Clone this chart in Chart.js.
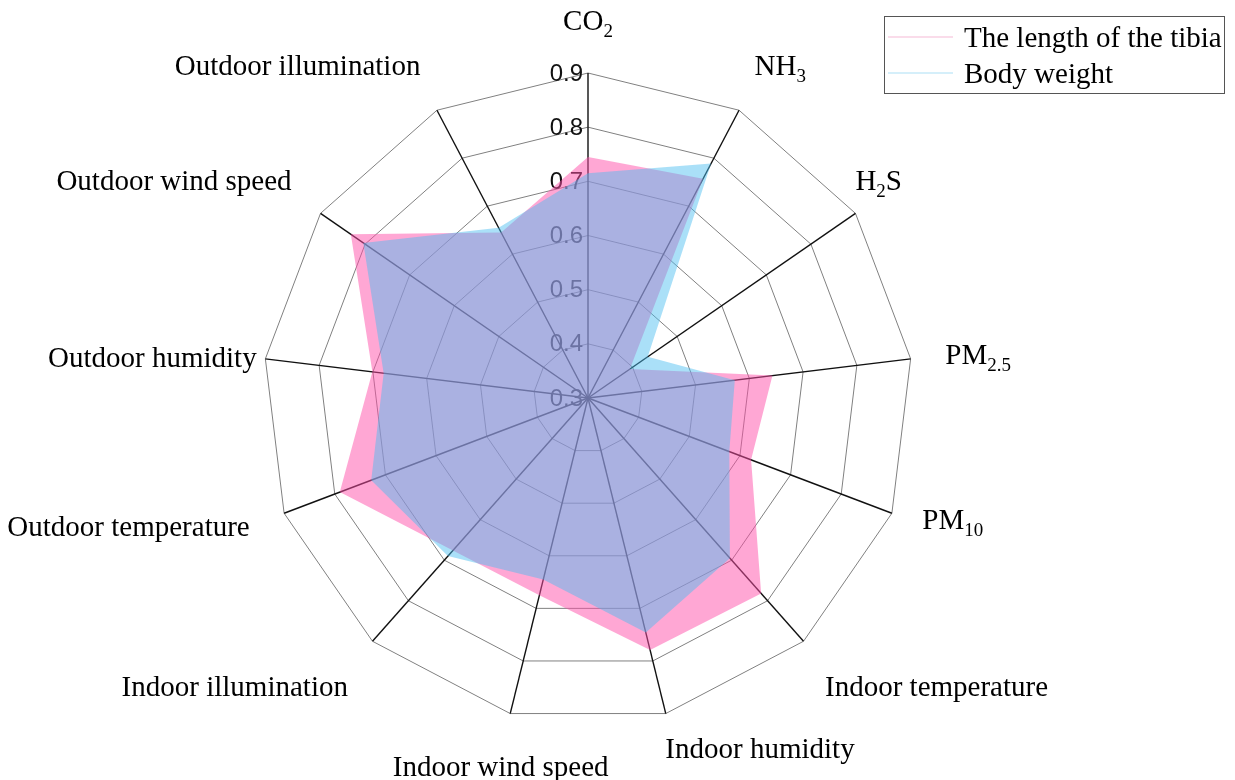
<!DOCTYPE html>
<html>
<head>
<meta charset="utf-8">
<script src="https://cdn.jsdelivr.net/npm/chart.js@4.4.0/dist/chart.umd.min.js"></script>
<style>
    html, body { margin: 0; padding: 0; background: #fff; }
    #wrap { width: 1235px; height: 780px; }
</style>
</head>
<body>
<div id="wrap"><canvas id="radarChart" width="1235" height="780"></canvas></div>
<script>
// categories, _{..} marks a subscript
const categories = ['CO_{2}', 'NH_{3}', 'H_{2}S', 'PM_{2.5}', 'PM_{10}', 'Indoor temperature', 'Indoor humidity',
    'Indoor wind speed', 'Indoor illumination', 'Outdoor temperature', 'Outdoor humidity', 'Outdoor wind speed',
    'Outdoor illumination'];
const seriesNames = ['The length of the tibia', 'Body weight'];
const tibiaLength = [0.745, 0.757, 0.394, 0.643, 0.622, 0.782, 0.779, 0.675, 0.676, 0.790, 0.701, 0.832, 0.645];
const bodyWeight = [0.715, 0.789, 0.434, 0.573, 0.579, 0.695, 0.746, 0.645, 0.690, 0.728, 0.680, 0.804, 0.655];
const tickMin = 0.3;
const tickMax = 0.9;
const tickStep = 0.1;

const pinkFill = 'rgba(255, 80, 170, 0.5)';
const blueFill = 'rgba(74, 189, 240, 0.47)';
const legendLines = ['#f6b9d6', '#ace0f6'];

// align, dx, dy for each point label (nudges away from the default spot)
const labelPlacement = [
    ['center', 0, -13], ['left', -3, -10], ['left', -33, -11], ['left', -5, 0], ['left', -7, -8],
    ['left', -5, 15], ['left', -10, -4], ['center', 0, 14], ['right', 2, 15], ['right', 3, -1],
    ['right', 31, 3], ['right', 4, -11], ['right', 2, -10]
];

const serif = '"Liberation Serif", "Times New Roman", serif';

function parseRich(text) {
    const parts = [];
    const re = /_\{([^}]*)\}/g;
    let last = 0, m;
    while ((m = re.exec(text)) !== null) {
        if (m.index > last) parts.push({ t: text.slice(last, m.index), sub: false });
        parts.push({ t: m[1], sub: true });
        last = re.lastIndex;
    }
    if (last < text.length) parts.push({ t: text.slice(last), sub: false });
    return parts;
}

function drawRich(ctx, text, x, yMid, align) {
    const parts = parseRich(text);
    const mainFont = '29px ' + serif;
    const subFont = '19px ' + serif;
    let total = 0;
    parts.forEach(p => {
        ctx.font = p.sub ? subFont : mainFont;
        p.w = ctx.measureText(p.t).width;
        total += p.w;
    });
    let cx = x;
    if (align === 'center') cx = x - total / 2;
    if (align === 'right') cx = x - total;
    const base = yMid + 10;
    ctx.textAlign = 'left';
    ctx.textBaseline = 'alphabetic';
    parts.forEach(p => {
        ctx.font = p.sub ? subFont : mainFont;
        ctx.fillText(p.t, cx, p.sub ? base + 7 : base);
        cx += p.w;
    });
}

// tick numbers sit under the filled areas
const tickLabelPlugin = {
    id: 'tickLabels',
    beforeDatasetsDraw(chart) {
        const scale = chart.scales.r;
        const ctx = chart.ctx;
        ctx.save();
        ctx.font = '24px "Liberation Sans", Arial, sans-serif';
        ctx.fillStyle = '#111';
        ctx.textAlign = 'right';
        ctx.textBaseline = 'middle';
        scale.ticks.forEach(t => {
            const d = scale.getDistanceFromCenterForValue(t.value);
            ctx.fillText(t.value.toFixed(1), scale.xCenter - 5, scale.yCenter - d + 1);
        });
        ctx.restore();
    }
};

const pointLabelPlugin = {
    id: 'richPointLabels',
    afterDraw(chart) {
        const scale = chart.scales.r;
        const ctx = chart.ctx;
        ctx.save();
        ctx.fillStyle = '#000';
        categories.forEach((name, i) => {
            const pos = scale.getPointPosition(i, scale.drawingArea + 40);
            const [align, dx, dy] = labelPlacement[i];
            drawRich(ctx, name, pos.x + dx, pos.y + dy, align);
        });
        ctx.restore();
    }
};

const boxLegendPlugin = {
    id: 'boxLegend',
    afterDraw(chart) {
        const ctx = chart.ctx;
        ctx.save();
        ctx.strokeStyle = '#555';
        ctx.lineWidth = 1;
        ctx.strokeRect(884.5, 16.5, 340, 77);
        chart.data.datasets.forEach((ds, i) => {
            const y = 37 + i * 36;
            ctx.strokeStyle = legendLines[i];
            ctx.lineWidth = 1.2;
            ctx.beginPath();
            ctx.moveTo(888, y);
            ctx.lineTo(953, y);
            ctx.stroke();
            ctx.fillStyle = '#000';
            ctx.font = '29px ' + serif;
            ctx.textAlign = 'left';
            ctx.textBaseline = 'alphabetic';
            ctx.fillText(ds.label, 964, y + 10);
        });
        ctx.restore();
    }
};

new Chart(document.getElementById('radarChart'), {
    type: 'radar',
    data: {
        labels: categories,
        datasets: [
            {
                label: seriesNames[0],
                data: tibiaLength,
                backgroundColor: pinkFill,
                borderWidth: 0,
                pointRadius: 0,
                fill: true,
                order: 1
            },
            {
                label: seriesNames[1],
                data: bodyWeight,
                backgroundColor: blueFill,
                borderWidth: 0,
                pointRadius: 0,
                fill: true,
                order: 0
            }
        ]
    },
    options: {
        responsive: false,
        animation: false,
        layout: {
            padding: { left: 263, right: 322, top: 73, bottom: 57 }
        },
        plugins: {
            legend: { display: false },
            tooltip: { enabled: false }
        },
        elements: {
            line: { tension: 0 }
        },
        scales: {
            r: {
                min: tickMin,
                max: tickMax,
                ticks: { display: false, stepSize: tickStep },
                pointLabels: { display: false },
                grid: { circular: false, color: '#808080', lineWidth: 1 },
                angleLines: { color: '#111', lineWidth: 1.4 }
            }
        }
    },
    plugins: [tickLabelPlugin, pointLabelPlugin, boxLegendPlugin]
});
</script>
</body>
</html>
